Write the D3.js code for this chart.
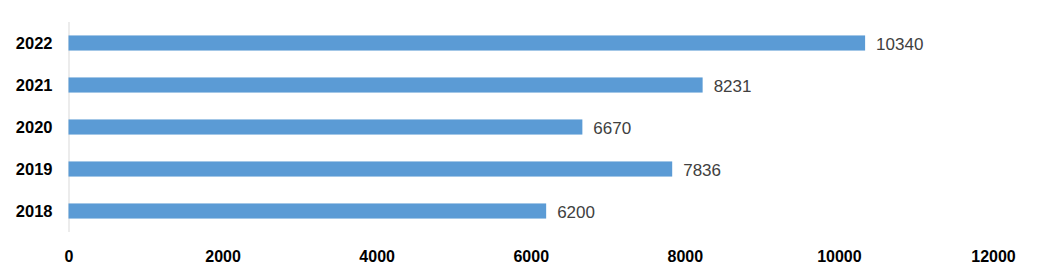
<!DOCTYPE html>
<html>
<head>
<meta charset="utf-8">
<script src="https://cdn.jsdelivr.net/npm/d3@7"></script>
<style>
  body { margin: 0; background: #fff; }
  svg { display: block; }
</style>
</head>
<body>
<div id="chart-area"></div>
<script>
// DATA-----------------------------------------------------------------------
const years = ["2022", "2021", "2020", "2019", "2018"]
const values = [10340, 8231, 6670, 7836, 6200]
const xTicks = [0, 2000, 4000, 6000, 8000, 10000, 12000]

// MARGIN CONVENTION-----------------------------------------------------------
const W = 1039, H = 280
const MARGIN = { LEFT: 68.5, RIGHT: 46, TOP: 22, BOTTOM: 48 }
const WIDTH = W - MARGIN.LEFT - MARGIN.RIGHT
const HEIGHT = H - MARGIN.TOP - MARGIN.BOTTOM

const svg = d3.select("#chart-area").append("svg")
  .attr("width", W)
  .attr("height", H)
const g = svg.append("g")
  .attr("transform", `translate(${MARGIN.LEFT}, ${MARGIN.TOP})`)

// SCALES---------------------------------------------------------------------
const x = d3.scaleLinear().domain([0, 12000]).range([0, WIDTH])
const y = d3.scaleBand().domain(years).range([0, HEIGHT])
  .paddingInner(0.64).paddingOuter(0.32)

// AXES
const xAxis = d3.axisBottom(x).tickValues(xTicks).tickSize(0).tickPadding(0).tickFormat(d3.format("d"))
const gx = g.append("g").attr("transform", `translate(0, ${HEIGHT})`).call(xAxis)
gx.select(".domain").remove()
gx.selectAll("text")
  .attr("y", 24)
  .attr("dy", "0.35em")
  .style("font-family", "'Liberation Sans', Arial, sans-serif")
  .style("font-size", "16px")
  .style("font-weight", "bold")
  .attr("fill", "#000")

const yAxis = d3.axisLeft(y).tickSize(0).tickPadding(16)
const gy = g.append("g").call(yAxis)
gy.select(".domain").attr("stroke", "#d9d9d9").attr("d", `M0.5,0V${HEIGHT}`)
gy.selectAll("text")
  .attr("dy", "0.38em")
  .style("font-family", "'Liberation Sans', Arial, sans-serif")
  .style("font-size", "16.5px")
  .style("font-weight", "bold")
  .attr("fill", "#000")

// BARS
const data = years.map((yr, i) => ({ year: yr, value: values[i] }))
g.selectAll("rect.bar").data(data).enter().append("rect")
  .attr("class", "bar")
  .attr("x", 0)
  .attr("y", d => y(d.year))
  .attr("width", d => x(d.value))
  .attr("height", y.bandwidth())
  .attr("fill", "#5b9bd5")

// VALUE LABELS
g.selectAll("text.val").data(data).enter().append("text")
  .attr("class", "val")
  .attr("x", d => x(d.value) + 11)
  .attr("y", d => y(d.year) + y.bandwidth() / 2 + 1)
  .attr("dy", "0.35em")
  .style("font-family", "'Liberation Sans', Arial, sans-serif")
  .style("font-size", "17px")
  .attr("fill", "#404040")
  .text(d => d.value)
</script>
</body>
</html>
